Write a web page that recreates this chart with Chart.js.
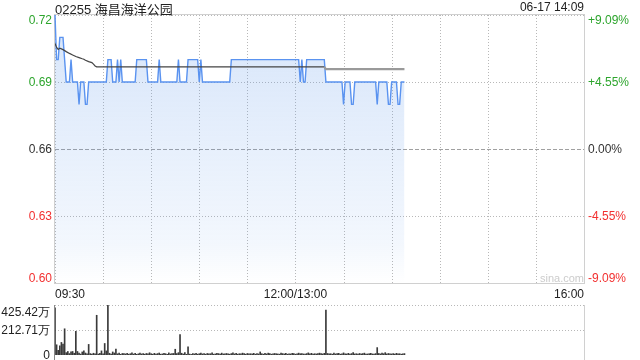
<!DOCTYPE html>
<html>
<head>
<meta charset="utf-8">
<script src="https://cdn.jsdelivr.net/npm/chart.js@4.4.1/dist/chart.umd.min.js"></script>
<style>
  body { margin: 0; background: #fff; }
  #wrap { position: relative; width: 640px; height: 360px; overflow: hidden; font-family: "Liberation Sans", Arial, sans-serif; }
  #priceChart { position: absolute; left: 0; top: 0; }
  #volChart { position: absolute; left: 0; top: 300px; }
  .title { position: absolute; left: 55px; top: -1px; font-size: 13px; color: #222; font-family: "Liberation Sans", "Noto Sans CJK SC", sans-serif; }
  .stamp { position: absolute; right: 56px; top: 0px; font-size: 12px; color: #222; }
  .mark { position: absolute; left: 540px; top: 272px; font-size: 11px; color: #ccc; }
</style>
</head>
<body>
<div id="wrap">
  <canvas id="priceChart" width="640" height="300"></canvas>
  <canvas id="volChart" width="640" height="60"></canvas>
  <div class="title">02255 海昌海洋公园</div>
  <div class="stamp">06-17 14:09</div>
  <div class="mark">sina.com</div>
</div>
<script>
// minute-by-minute price, 09:30 .. 14:08 (morning 150 min, then afternoon)
const price = [
  0.72, 0.70, 0.70, 0.71, 0.71, 0.71, 0.70, 0.69, 0.69, 0.69,
  0.70, 0.69, 0.69, 0.69, 0.69, 0.68, 0.69, 0.69, 0.69, 0.68,
  0.68, 0.69, 0.69, 0.69, 0.69, 0.69, 0.69, 0.69, 0.69, 0.69,
  0.69, 0.69, 0.69, 0.70, 0.70, 0.70, 0.69, 0.69, 0.69, 0.70,
  0.69, 0.70, 0.69, 0.69, 0.69, 0.69, 0.69, 0.69, 0.69, 0.69,
  0.69, 0.70, 0.70, 0.70, 0.70, 0.70, 0.70, 0.70, 0.69, 0.69,
  0.69, 0.69, 0.69, 0.69, 0.69, 0.70, 0.69, 0.69, 0.69, 0.69,
  0.69, 0.69, 0.69, 0.69, 0.69, 0.69, 0.69, 0.70, 0.69, 0.69,
  0.69, 0.69, 0.69, 0.70, 0.70, 0.70, 0.70, 0.70, 0.70, 0.70,
  0.69, 0.70, 0.69, 0.69, 0.69, 0.69, 0.69, 0.69, 0.69, 0.69,
  0.69, 0.69, 0.69, 0.69, 0.69, 0.69, 0.69, 0.69, 0.69, 0.69,
  0.70, 0.70, 0.70, 0.70, 0.70, 0.70, 0.70, 0.70, 0.70, 0.70,
  0.70, 0.70, 0.70, 0.70, 0.70, 0.70, 0.70, 0.70, 0.70, 0.70,
  0.70, 0.70, 0.70, 0.70, 0.70, 0.70, 0.70, 0.70, 0.70, 0.70,
  0.70, 0.70, 0.70, 0.70, 0.70, 0.70, 0.70, 0.70, 0.70, 0.70,
  0.70, 0.70, 0.70, 0.69, 0.70, 0.69, 0.69, 0.70, 0.70, 0.70,
  0.70, 0.70, 0.70, 0.70, 0.70, 0.70, 0.70, 0.70, 0.70, 0.69,
  0.69, 0.69, 0.69, 0.69, 0.69, 0.69, 0.69, 0.69, 0.69, 0.69,
  0.68, 0.69, 0.69, 0.69, 0.69, 0.68, 0.68, 0.69, 0.69, 0.69,
  0.69, 0.69, 0.69, 0.69, 0.69, 0.69, 0.69, 0.69, 0.69, 0.69,
  0.69, 0.68, 0.69, 0.69, 0.69, 0.69, 0.69, 0.69, 0.68, 0.68,
  0.69, 0.69, 0.69, 0.69, 0.68, 0.68, 0.69, 0.69, 0.69
];

// average price line, read at the minutes where it changes
const avgTimes  = [0, 1, 2, 3, 5, 7, 9, 11, 13, 15, 17, 18, 19, 21, 23, 24, 25, 26, 168, 169, 218];
const avgValues = [0.7073, 0.7055, 0.7046, 0.7051, 0.7045, 0.7036, 0.7028, 0.7021, 0.7014, 0.7009,
                   0.7004, 0.7002, 0.6997, 0.6991, 0.6987, 0.6980, 0.6972, 0.6968, 0.6968, 0.6958, 0.6958];

// volume per minute, in 万
const volume = [
  402, 87, 40, 78, 107, 93, 223, 20, 30, 12,
  26, 30, 15, 202, 30, 17, 8, 26, 35, 17,
  10, 90, 12, 8, 15, 10, 338, 8, 15, 35,
  10, 98, 35, 425.42, 15, 8, 26, 17, 50, 10,
  17, 6, 13,
  12, 9, 15, 7, 11, 18, 8, 14, 6, 10, 16, 9, 12, 7, 13, 9,
  19, 11, 7, 14, 8, 12, 17, 7, 9, 14, 11, 6, 18, 9, 12, 13,
  49, 12, 20, 174, 15, 8, 20, 6, 70, 8, 5, 12,
  9, 14, 7, 11, 16, 9, 12, 7, 13, 9,
  11, 18, 7, 9, 14, 12, 7, 16, 9, 11,
  13, 9, 7, 12, 18, 9, 14, 7, 11, 9,
  16, 12, 7, 13, 9, 11, 9, 14, 7, 12,
  9, 26, 11, 7, 14, 9, 16, 12, 7, 9,
  13, 11, 9, 7, 16, 12, 9, 14, 7, 11,
  9, 14, 12, 7, 9, 16, 11, 13, 9, 7,
  12, 18, 9, 14, 7, 11, 9, 13, 16, 12,
  9, 14,
  382,
  13, 9, 11, 7, 16, 9, 12, 14, 7, 9,
  18, 11, 9, 14, 7, 12, 20, 9, 11, 7,
  13, 9, 12, 16, 7, 9, 11, 14, 9, 7,
  12, 63, 13, 9, 17, 11, 20, 9, 13, 10,
  9, 12, 7, 14, 9, 11, 7, 9, 12
];

const prevClose = 0.66;
const priceTicks = [0.60, 0.63, 0.66, 0.69, 0.72];
const priceTickLabels = ['0.60', '0.63', '0.66', '0.69', '0.72'];
const pctTickLabels = ['-9.09%', '-4.55%', '0.00%', '+4.55%', '+9.09%'];
const xTicks = [0, 30, 60, 90, 120, 150, 180, 210, 240, 270, 300, 330];
const xLabelPos = [0, 150, 330];
const xLabelText = ['09:30', '12:00/13:00', '16:00'];
const volTicks = [0, 212.71, 425.42];
const volTickLabels = ['0', '212.71万', '425.42万'];

const UP = '#2da52d', DOWN = '#f23030', FLAT = '#333';
const GRID = '#b8b8b8';
const FONT = '"Liberation Sans", Arial, sans-serif';
Chart.defaults.font.family = FONT;
Chart.defaults.font.size = 12;

function colorFor(v) {
  if (v > prevClose + 1e-6) return UP;
  if (v < prevClose - 1e-6) return DOWN;
  return FLAT;
}

function dotted(ctx, x1, y1, x2, y2, color, dash) {
  ctx.save();
  ctx.strokeStyle = color;
  ctx.lineWidth = 1;
  ctx.setLineDash(dash);
  ctx.beginPath();
  ctx.moveTo(x1, y1);
  ctx.lineTo(x2, y2);
  ctx.stroke();
  ctx.restore();
}

// grid from the scales, frame, dashed prev close line, and y labels
const priceFrame = {
  id: 'priceFrame',
  beforeDatasetsDraw(chart) {
    const { ctx, chartArea: a, scales } = chart;
    xTicks.forEach(v => {
      const x = Math.round(scales.x.getPixelForValue(v)) + 0.5;
      dotted(ctx, x, a.top, x, a.bottom, GRID, [1, 2]);
    });
    priceTicks.forEach(v => {
      const y = Math.round(scales.y.getPixelForValue(v)) + 0.5;
      if (v === prevClose) dotted(ctx, a.left, y, a.right, y, '#a0a0a0', [4, 2]);
      else dotted(ctx, a.left, y, a.right, y, GRID, [1, 2]);
    });
    ctx.save();
    ctx.strokeStyle = '#d0d0d0';
    ctx.lineWidth = 1;
    ctx.strokeRect(a.left - 0.5, a.top - 0.5, a.right - a.left + 1, a.bottom - a.top + 1);
    ctx.restore();
  },
  afterDraw(chart) {
    const { ctx, chartArea: a, scales } = chart;
    ctx.save();
    ctx.font = '12px ' + FONT;
    ctx.textBaseline = 'middle';
    priceTicks.forEach((v, i) => {
      let y = scales.y.getPixelForValue(v);
      y = Math.min(Math.max(y, a.top + 5), a.bottom - 5);
      ctx.fillStyle = colorFor(v);
      ctx.textAlign = 'right';
      ctx.fillText(priceTickLabels[i], a.left - 3, y + 1);
      ctx.textAlign = 'left';
      ctx.fillText(pctTickLabels[i], a.right + 4, y + 1);
    });
    ctx.restore();
  }
};

const priceCtx = document.getElementById('priceChart').getContext('2d');
new Chart(priceCtx, {
  type: 'line',
  data: {
    datasets: [
      {
        label: 'avg',
        data: avgTimes.map((t, i) => ({ x: t, y: avgValues[i] })),
        borderColor: '#444',
        borderWidth: 1.2,
        pointRadius: 0,
        fill: false,
        order: 0,
        segment: {
          borderColor: c => c.p0.parsed.x >= 168 ? '#9a9a9a' : '#444',
          borderWidth: c => c.p0.parsed.x >= 168 ? 2.2 : 1.2
        }
      },
      {
        label: 'price',
        data: price.map((p, i) => ({ x: i, y: p })),
        borderColor: '#5a93f0',
        borderWidth: 1.4,
        pointRadius: 0,
        tension: 0,
        clip: 3,
        order: 1,
        fill: 'start',
        backgroundColor: (c) => {
          const { ctx, chartArea } = c.chart;
          if (!chartArea) return 'rgba(99,155,235,0.25)';
          const g = ctx.createLinearGradient(0, chartArea.top, 0, chartArea.bottom);
          g.addColorStop(0, 'rgba(99,155,235,0.26)');
          g.addColorStop(0.85, 'rgba(99,155,235,0.08)');
          g.addColorStop(1, 'rgba(99,155,235,0)');
          return g;
        }
      }
    ]
  },
  options: {
    responsive: false,
    animation: false,
    devicePixelRatio: 1,
    layout: { padding: { top: 15, left: 0, right: 56, bottom: 0 } },
    plugins: { legend: { display: false }, tooltip: { enabled: false } },
    scales: {
      x: {
        type: 'linear',
        min: 0,
        max: 330,
        afterFit: s => { s.height = 17; },
        afterBuildTicks: s => { s.ticks = xTicks.map(v => ({ value: v })); },
        ticks: {
          autoSkip: false,
          maxRotation: 0,
          align: 'inner',
          padding: 4,
          color: '#222',
          callback: v => { const k = xLabelPos.indexOf(v); return k >= 0 ? xLabelText[k] : ''; }
        },
        grid: { display: false, drawTicks: false },
        border: { display: false }
      },
      y: {
        position: 'left',
        min: 0.60,
        max: 0.72,
        afterFit: s => { s.width = 55; },
        afterBuildTicks: s => { s.ticks = priceTicks.map(v => ({ value: v })); },
        ticks: { display: false },
        grid: { display: false },
        border: { display: false }
      }
    }
  },
  plugins: [priceFrame]
});

// volume panel: grid, borders + tick labels kept inside the panel
const volFrame = {
  id: 'volFrame',
  beforeDatasetsDraw(chart) {
    const { ctx, chartArea: a, scales } = chart;
    volTicks.forEach(v => {
      if (v === 0) return;
      const y = Math.round(scales.y.getPixelForValue(v)) + 0.5;
      dotted(ctx, a.left, y, a.right, y, GRID, [1, 2]);
    });
  },
  afterDraw(chart) {
    const { ctx, chartArea: a, scales } = chart;
    ctx.save();
    ctx.lineWidth = 1;
    ctx.strokeStyle = '#888';
    ctx.beginPath();
    ctx.moveTo(a.left - 0.5, a.top);
    ctx.lineTo(a.left - 0.5, a.bottom + 5);
    ctx.stroke();
    ctx.strokeStyle = '#d0d0d0';
    ctx.beginPath();
    ctx.moveTo(a.right + 0.5, a.top);
    ctx.lineTo(a.right + 0.5, a.bottom + 5);
    ctx.stroke();
    ctx.fillStyle = '#222';
    ctx.font = '12px ' + FONT;
    ctx.textAlign = 'right';
    ctx.textBaseline = 'middle';
    volTicks.forEach((v, i) => {
      const y = Math.max(scales.y.getPixelForValue(v), a.top + 7);
      ctx.fillText(volTickLabels[i], a.left - 5, y + 1);
    });
    ctx.restore();
  }
};

const volCtx = document.getElementById('volChart').getContext('2d');
new Chart(volCtx, {
  type: 'bar',
  data: {
    datasets: [{
      data: volume.map((v, i) => ({ x: i, y: v })),
      backgroundColor: '#3a3a3a',
      barThickness: 1
    }]
  },
  options: {
    responsive: false,
    animation: false,
    devicePixelRatio: 1,
    layout: { padding: { top: 5, left: 0, right: 56, bottom: 5 } },
    plugins: { legend: { display: false }, tooltip: { enabled: false } },
    scales: {
      x: { type: 'linear', min: 0, max: 330, offset: false, display: false },
      y: {
        min: 0,
        max: 425.42,
        afterFit: s => { s.width = 55; },
        afterBuildTicks: s => { s.ticks = volTicks.map(v => ({ value: v })); },
        ticks: { display: false },
        grid: { display: false },
        border: { display: false }
      }
    }
  },
  plugins: [volFrame]
});
</script>
</body>
</html>
